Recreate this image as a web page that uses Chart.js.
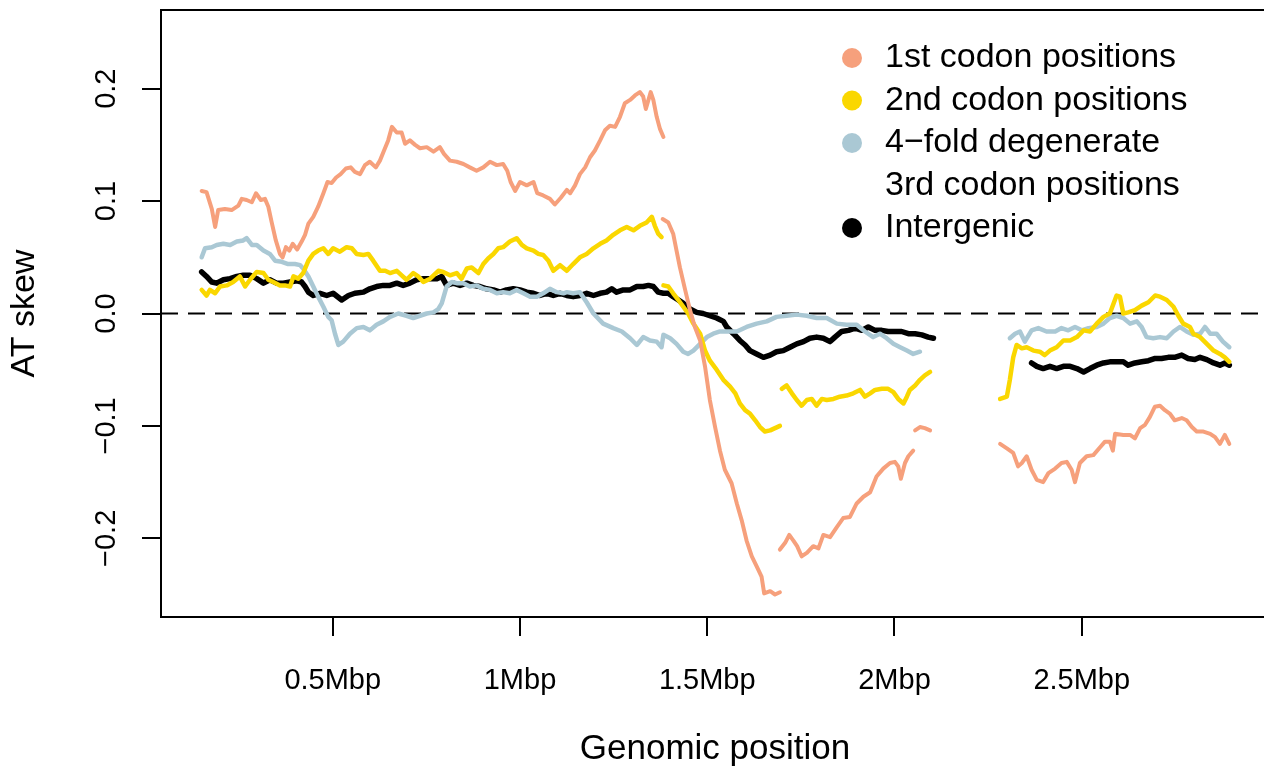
<!DOCTYPE html>
<html>
<head>
<meta charset="utf-8">
<title>AT skew along the genome</title>
<script src="https://cdn.jsdelivr.net/npm/chart.js"></script>
<style>
	html, body { margin: 0; padding: 0; background: #fff; overflow: hidden; }
	canvas { display: block; }
</style>
</head>
<body>
<canvas id="skew-chart" width="1272" height="769"></canvas>
<script>
; (function() {
	const FONT = "'Liberation Sans', Arial, Helvetica, sans-serif"

	const xTicks = [0.5, 1, 1.5, 2, 2.5]
	const xTickLabels = ['0.5Mbp', '1Mbp', '1.5Mbp', '2Mbp', '2.5Mbp']
	const yTicks = [-0.2, -0.1, 0, 0.1, 0.2]
	const yTickLabels = ['\u22120.2', '\u22120.1', '0.0', '0.1', '0.2']

	const seriesLabels = ['1st codon positions', '2nd codon positions', '4\u2212fold degenerate\n3rd codon positions', 'Intergenic']
	const seriesColors = ['#F6A07C', '#FAD700', '#AAC8D4', '#000000']

	// [position (Mbp), AT skew], one inner array per unbroken run of windows
	const firstCodon = [
		[[0.150,0.109],[0.163,0.108],[0.177,0.093],[0.186,0.077],[0.194,0.092],[0.212,0.093],[0.230,0.092],[0.248,0.096],[0.257,0.102],[0.270,0.101],[0.284,0.099],[0.295,0.107],[0.308,0.101],[0.319,0.102],[0.328,0.095],[0.337,0.081],[0.348,0.065],[0.359,0.053],[0.366,0.050],[0.375,0.059],[0.384,0.056],[0.393,0.062],[0.405,0.057],[0.417,0.064],[0.426,0.070],[0.435,0.080],[0.448,0.086],[0.461,0.095],[0.475,0.107],[0.486,0.117],[0.497,0.116],[0.509,0.121],[0.521,0.124],[0.535,0.129],[0.548,0.130],[0.559,0.126],[0.573,0.124],[0.586,0.132],[0.599,0.135],[0.615,0.130],[0.626,0.136],[0.637,0.145],[0.648,0.154],[0.658,0.166],[0.671,0.161],[0.684,0.161],[0.693,0.151],[0.706,0.154],[0.720,0.150],[0.733,0.147],[0.751,0.148],[0.769,0.144],[0.786,0.148],[0.797,0.142],[0.813,0.136],[0.831,0.135],[0.849,0.133],[0.866,0.130],[0.884,0.127],[0.902,0.130],[0.920,0.135],[0.938,0.132],[0.955,0.133],[0.966,0.127],[0.975,0.117],[0.987,0.109],[1.000,0.117],[1.018,0.114],[1.036,0.117],[1.046,0.107],[1.062,0.105],[1.080,0.102],[1.093,0.097],[1.109,0.103],[1.125,0.110],[1.134,0.107],[1.147,0.114],[1.160,0.124],[1.174,0.130],[1.187,0.139],[1.200,0.145],[1.214,0.154],[1.227,0.163],[1.240,0.167],[1.254,0.166],[1.267,0.175],[1.280,0.187],[1.294,0.190],[1.307,0.194],[1.320,0.197],[1.329,0.193],[1.336,0.182],[1.343,0.190],[1.349,0.197],[1.356,0.190],[1.365,0.175],[1.374,0.164],[1.383,0.157]],
		[[1.381,0.084],[1.396,0.081],[1.409,0.071],[1.418,0.056],[1.427,0.041],[1.441,0.021],[1.454,0.003],[1.467,-0.012],[1.481,-0.024],[1.494,-0.047],[1.507,-0.077],[1.521,-0.101],[1.534,-0.122],[1.547,-0.139],[1.565,-0.151],[1.579,-0.169],[1.592,-0.184],[1.605,-0.202],[1.619,-0.216],[1.632,-0.225],[1.645,-0.234],[1.652,-0.249],[1.668,-0.247],[1.681,-0.250],[1.694,-0.248]],
		[[1.694,-0.210],[1.708,-0.204],[1.719,-0.197],[1.730,-0.202],[1.740,-0.207],[1.752,-0.216],[1.766,-0.213],[1.783,-0.207],[1.797,-0.209],[1.810,-0.197],[1.828,-0.199],[1.846,-0.190],[1.863,-0.182],[1.881,-0.181],[1.899,-0.169],[1.917,-0.163],[1.935,-0.159],[1.952,-0.145],[1.970,-0.138],[1.988,-0.133],[2.001,-0.132],[2.010,-0.136],[2.017,-0.147],[2.028,-0.133],[2.037,-0.127],[2.050,-0.122]],
		[[2.055,-0.104],[2.068,-0.101],[2.081,-0.102],[2.095,-0.104]],
		[[2.282,-0.116],[2.300,-0.120],[2.317,-0.124],[2.330,-0.136],[2.340,-0.133],[2.353,-0.127],[2.366,-0.139],[2.380,-0.148],[2.397,-0.150],[2.411,-0.142],[2.429,-0.138],[2.446,-0.133],[2.460,-0.132],[2.473,-0.139],[2.482,-0.150],[2.495,-0.133],[2.513,-0.127],[2.531,-0.126],[2.549,-0.119],[2.562,-0.114],[2.575,-0.114],[2.583,-0.122],[2.589,-0.107],[2.611,-0.108],[2.629,-0.108],[2.642,-0.111],[2.656,-0.102],[2.669,-0.099],[2.682,-0.092],[2.695,-0.083],[2.709,-0.082],[2.722,-0.086],[2.735,-0.089],[2.748,-0.095],[2.767,-0.093],[2.780,-0.095],[2.794,-0.101],[2.807,-0.105],[2.825,-0.105],[2.843,-0.107],[2.856,-0.110],[2.869,-0.116],[2.882,-0.108],[2.894,-0.116]]
	]

	const secondCodon = [
		[[0.150,0.021],[0.163,0.016],[0.172,0.021],[0.186,0.018],[0.199,0.024],[0.217,0.025],[0.234,0.028],[0.252,0.033],[0.266,0.024],[0.279,0.030],[0.297,0.037],[0.315,0.036],[0.328,0.030],[0.341,0.028],[0.359,0.025],[0.372,0.025],[0.386,0.024],[0.395,0.033],[0.408,0.031],[0.421,0.036],[0.435,0.047],[0.448,0.053],[0.461,0.056],[0.475,0.058],[0.488,0.053],[0.501,0.058],[0.519,0.055],[0.537,0.059],[0.551,0.058],[0.564,0.053],[0.582,0.052],[0.595,0.053],[0.608,0.047],[0.626,0.038],[0.640,0.038],[0.653,0.036],[0.671,0.038],[0.684,0.034],[0.697,0.030],[0.715,0.036],[0.728,0.033],[0.742,0.028],[0.760,0.031],[0.782,0.038],[0.795,0.037],[0.813,0.034],[0.831,0.036],[0.844,0.031],[0.858,0.040],[0.871,0.041],[0.889,0.036],[0.902,0.044],[0.915,0.049],[0.929,0.053],[0.942,0.058],[0.955,0.059],[0.973,0.064],[0.991,0.067],[1.005,0.061],[1.018,0.058],[1.036,0.056],[1.049,0.053],[1.062,0.052],[1.076,0.047],[1.089,0.038],[1.107,0.043],[1.125,0.038],[1.142,0.044],[1.160,0.050],[1.178,0.053],[1.196,0.058],[1.214,0.062],[1.231,0.065],[1.249,0.070],[1.267,0.074],[1.285,0.077],[1.303,0.074],[1.320,0.078],[1.338,0.081],[1.352,0.086],[1.360,0.078],[1.369,0.071],[1.378,0.068]],
		[[1.383,0.025],[1.396,0.024],[1.409,0.018],[1.423,0.012],[1.436,0.006],[1.449,0.000],[1.463,-0.009],[1.481,-0.018],[1.494,-0.033],[1.507,-0.042],[1.525,-0.050],[1.543,-0.059],[1.561,-0.065],[1.575,-0.071],[1.587,-0.080],[1.601,-0.086],[1.614,-0.089],[1.628,-0.095],[1.641,-0.101],[1.654,-0.105],[1.668,-0.104],[1.681,-0.102],[1.694,-0.100]],
		[[1.699,-0.067],[1.712,-0.064],[1.726,-0.071],[1.739,-0.077],[1.752,-0.082],[1.766,-0.077],[1.779,-0.076],[1.792,-0.082],[1.806,-0.076],[1.819,-0.077],[1.837,-0.076],[1.854,-0.074],[1.872,-0.073],[1.890,-0.071],[1.908,-0.068],[1.921,-0.074],[1.935,-0.071],[1.948,-0.068],[1.966,-0.067],[1.983,-0.067],[1.997,-0.070],[2.010,-0.076],[2.024,-0.080],[2.033,-0.074],[2.041,-0.068],[2.055,-0.064],[2.068,-0.059],[2.081,-0.055],[2.095,-0.052]],
		[[2.282,-0.076],[2.300,-0.074],[2.308,-0.059],[2.317,-0.039],[2.326,-0.028],[2.340,-0.031],[2.353,-0.030],[2.371,-0.033],[2.388,-0.034],[2.401,-0.037],[2.415,-0.033],[2.433,-0.030],[2.451,-0.024],[2.469,-0.024],[2.487,-0.021],[2.505,-0.015],[2.522,-0.016],[2.540,-0.009],[2.558,-0.003],[2.575,0.000],[2.593,0.016],[2.602,0.015],[2.611,0.000],[2.624,0.001],[2.642,0.003],[2.660,0.007],[2.678,0.010],[2.696,0.016],[2.709,0.015],[2.727,0.012],[2.745,0.006],[2.758,-0.002],[2.771,-0.009],[2.789,-0.012],[2.798,-0.018],[2.816,-0.021],[2.834,-0.027],[2.852,-0.033],[2.869,-0.036],[2.882,-0.039],[2.894,-0.043]]
	]

	const fourFold = [
		[[0.150,0.050],[0.159,0.058],[0.177,0.059],[0.190,0.061],[0.208,0.062],[0.226,0.061],[0.244,0.064],[0.261,0.065],[0.270,0.067],[0.284,0.061],[0.297,0.061],[0.315,0.056],[0.332,0.053],[0.346,0.047],[0.364,0.046],[0.381,0.044],[0.399,0.044],[0.413,0.043],[0.421,0.040],[0.435,0.033],[0.448,0.024],[0.461,0.015],[0.475,0.006],[0.488,-0.003],[0.497,-0.006],[0.506,-0.018],[0.515,-0.028],[0.528,-0.025],[0.546,-0.018],[0.564,-0.013],[0.582,-0.012],[0.599,-0.015],[0.617,-0.010],[0.635,-0.007],[0.653,-0.003],[0.675,0.000],[0.697,-0.002],[0.715,-0.004],[0.733,-0.002],[0.751,0.000],[0.769,0.001],[0.782,0.004],[0.791,0.009],[0.804,0.024],[0.818,0.028],[0.831,0.027],[0.849,0.027],[0.866,0.024],[0.884,0.025],[0.902,0.022],[0.920,0.021],[0.938,0.018],[0.955,0.019],[0.973,0.018],[0.991,0.021],[1.009,0.018],[1.027,0.015],[1.045,0.015],[1.062,0.018],[1.080,0.022],[1.098,0.019],[1.116,0.018],[1.125,0.019],[1.142,0.018],[1.160,0.019],[1.178,0.010],[1.196,0.000],[1.222,-0.009],[1.249,-0.013],[1.272,-0.016],[1.294,-0.022],[1.312,-0.028],[1.329,-0.021],[1.347,-0.024],[1.365,-0.025],[1.378,-0.030],[1.383,-0.019],[1.401,-0.022],[1.418,-0.027],[1.436,-0.034],[1.449,-0.036],[1.463,-0.033],[1.481,-0.027],[1.499,-0.021],[1.516,-0.018],[1.534,-0.016],[1.552,-0.016],[1.579,-0.016],[1.605,-0.012],[1.632,-0.009],[1.659,-0.007],[1.685,-0.003],[1.712,-0.002],[1.739,-0.001],[1.766,-0.002],[1.792,-0.004],[1.819,-0.004],[1.846,-0.009],[1.872,-0.010],[1.899,-0.010],[1.921,-0.016],[1.943,-0.021],[1.961,-0.018],[1.979,-0.022],[1.997,-0.027],[2.015,-0.030],[2.033,-0.033],[2.050,-0.036],[2.068,-0.034]],
		[[2.308,-0.022],[2.322,-0.018],[2.335,-0.016],[2.348,-0.025],[2.366,-0.015],[2.384,-0.013],[2.406,-0.016],[2.429,-0.016],[2.446,-0.013],[2.464,-0.015],[2.482,-0.012],[2.500,-0.015],[2.518,-0.013],[2.540,-0.012],[2.558,-0.009],[2.575,-0.004],[2.593,-0.002],[2.611,-0.004],[2.629,-0.009],[2.647,-0.007],[2.660,-0.012],[2.673,-0.021],[2.691,-0.022],[2.709,-0.021],[2.727,-0.022],[2.745,-0.016],[2.762,-0.012],[2.780,-0.016],[2.798,-0.019],[2.816,-0.018],[2.829,-0.012],[2.843,-0.018],[2.860,-0.018],[2.877,-0.025],[2.894,-0.030]]
	]

	const intergenic = [
		[[0.150,0.037],[0.163,0.033],[0.177,0.028],[0.190,0.027],[0.208,0.030],[0.226,0.031],[0.244,0.033],[0.261,0.034],[0.279,0.034],[0.297,0.031],[0.315,0.027],[0.332,0.030],[0.350,0.027],[0.368,0.027],[0.386,0.028],[0.404,0.029],[0.417,0.028],[0.426,0.024],[0.435,0.019],[0.448,0.016],[0.466,0.018],[0.484,0.016],[0.501,0.018],[0.524,0.012],[0.542,0.016],[0.559,0.018],[0.582,0.019],[0.599,0.022],[0.617,0.024],[0.635,0.025],[0.653,0.025],[0.671,0.027],[0.688,0.025],[0.706,0.027],[0.724,0.030],[0.742,0.031],[0.760,0.031],[0.778,0.031],[0.791,0.033],[0.804,0.025],[0.822,0.027],[0.840,0.025],[0.858,0.027],[0.875,0.025],[0.893,0.024],[0.911,0.022],[0.929,0.021],[0.947,0.019],[0.964,0.021],[0.982,0.022],[1.000,0.021],[1.018,0.019],[1.036,0.018],[1.053,0.016],[1.071,0.018],[1.089,0.016],[1.107,0.018],[1.125,0.016],[1.142,0.015],[1.160,0.016],[1.178,0.018],[1.196,0.016],[1.214,0.018],[1.231,0.019],[1.245,0.022],[1.258,0.019],[1.276,0.021],[1.294,0.021],[1.312,0.024],[1.329,0.024],[1.343,0.025],[1.356,0.024],[1.369,0.019],[1.383,0.018],[1.396,0.018],[1.409,0.015],[1.423,0.012],[1.436,0.009],[1.454,0.004],[1.472,0.001],[1.489,0.000],[1.507,-0.002],[1.525,-0.004],[1.543,-0.007],[1.552,-0.012],[1.570,-0.018],[1.587,-0.024],[1.601,-0.028],[1.614,-0.033],[1.632,-0.036],[1.650,-0.039],[1.668,-0.037],[1.685,-0.034],[1.703,-0.033],[1.721,-0.030],[1.739,-0.027],[1.757,-0.025],[1.774,-0.022],[1.792,-0.021],[1.810,-0.022],[1.828,-0.025],[1.841,-0.021],[1.859,-0.016],[1.877,-0.015],[1.895,-0.013],[1.913,-0.015],[1.930,-0.012],[1.948,-0.015],[1.966,-0.015],[1.983,-0.016],[2.001,-0.016],[2.019,-0.016],[2.037,-0.018],[2.055,-0.018],[2.073,-0.019],[2.090,-0.021],[2.104,-0.022]],
		[[2.366,-0.044],[2.380,-0.047],[2.397,-0.049],[2.415,-0.047],[2.433,-0.049],[2.451,-0.047],[2.469,-0.047],[2.487,-0.049],[2.505,-0.052],[2.522,-0.049],[2.540,-0.046],[2.558,-0.044],[2.575,-0.043],[2.593,-0.043],[2.611,-0.043],[2.624,-0.046],[2.642,-0.044],[2.660,-0.043],[2.678,-0.042],[2.696,-0.040],[2.713,-0.040],[2.731,-0.039],[2.748,-0.039],[2.767,-0.037],[2.784,-0.040],[2.802,-0.041],[2.816,-0.039],[2.834,-0.041],[2.852,-0.044],[2.869,-0.046],[2.882,-0.044],[2.894,-0.046]]
	]

	// join the runs, putting a null between them so the line breaks
	function toPoints(runs) {
		const pts = []
		runs.forEach((run, i) => {
			if (i > 0) pts.push({ x: run[0][0], y: null })
			run.forEach(p => pts.push({ x: p[0], y: p[1] }))
		})
		return pts
	}

	function lineSet(runs, idx, width) {
		return {
			label: seriesLabels[idx],
			data: toPoints(runs),
			borderColor: seriesColors[idx],
			backgroundColor: seriesColors[idx],
			borderWidth: width,
			pointRadius: 0,
			tension: 0,
			spanGaps: false,
			borderJoinStyle: 'round',
			borderCapStyle: 'round',
		}
	}

	// dashed zero line, box, rotated y labels and the legend
	const rBase = {
		id: 'rBase',
		beforeDatasetsDraw(chart) {
			const { ctx, chartArea, scales } = chart
			const y0 = scales.y.getPixelForValue(0)
			ctx.save()
			ctx.strokeStyle = '#000'
			ctx.lineWidth = 2
			ctx.setLineDash([17, 10])
			ctx.beginPath()
			ctx.moveTo(chartArea.left, y0)
			ctx.lineTo(chartArea.right, y0)
			ctx.stroke()
			ctx.restore()
		},
		afterDraw(chart) {
			const { ctx, chartArea, scales } = chart
			ctx.save()
			ctx.strokeStyle = '#000'
			ctx.lineWidth = 2
			ctx.strokeRect(chartArea.left, chartArea.top, chartArea.width, chartArea.height)

			ctx.fillStyle = '#000'
			ctx.font = '29px ' + FONT
			ctx.textAlign = 'center'
			ctx.textBaseline = 'alphabetic'
			yTicks.forEach((v, i) => {
				ctx.save()
				ctx.translate(115, scales.y.getPixelForValue(v))
				ctx.rotate(-Math.PI / 2)
				ctx.fillText(yTickLabels[i], 0, 0)
				ctx.restore()
			})

			// legend
			ctx.font = '34px ' + FONT
			ctx.textAlign = 'left'
			ctx.textBaseline = 'middle'
			let row = 0
			const top = chartArea.top + 48
			const step = 42.5
			seriesLabels.forEach((label, i) => {
				const y = top + row * step
				ctx.fillStyle = seriesColors[i]
				ctx.beginPath()
				ctx.arc(852, y, 10, 0, Math.PI * 2)
				ctx.fill()
				ctx.fillStyle = '#000'
				label.split('\n').forEach(line => {
					ctx.fillText(line, 885, top + row * step)
					row++
				})
			})
			ctx.restore()
		}
	}

	const axisGrid = {
		drawOnChartArea: false,
		drawTicks: true,
		tickLength: 19,
		tickWidth: 2,
		tickColor: '#000',
		color: '#000',
		lineWidth: 2,
	}

	const config = {
		type: 'line',
		data: {
			datasets: [
				lineSet(firstCodon, 0, 4),
				lineSet(secondCodon, 1, 4.5),
				lineSet(fourFold, 2, 4.5),
				lineSet(intergenic, 3, 5.5),
			],
		},
		options: {
			responsive: false,
			animation: false,
			devicePixelRatio: 1,
			layout: { padding: { top: 10, right: 3, left: 0, bottom: 0 } },
			plugins: {
				legend: { display: false },
				tooltip: { enabled: false },
			},
			scales: {
				x: {
					type: 'linear',
					min: 0.0414,
					max: 3.0,
					afterBuildTicks(scale) { scale.ticks = xTicks.map(v => ({ value: v })) },
					afterFit(scale) { scale.height = 152 },
					grid: axisGrid,
					border: { display: true, color: '#000', width: 2 },
					ticks: {
						autoSkip: false,
						maxRotation: 0,
						padding: 28,
						color: '#000',
						font: { size: 29, family: FONT },
						callback: (v, i) => xTickLabels[i],
					},
					title: {
						display: true,
						text: 'Genomic position',
						color: '#000',
						font: { size: 35, family: FONT, lineHeight: 1 },
						padding: { top: 0, bottom: 2 },
					},
				},
				y: {
					type: 'linear',
					min: -0.27,
					max: 0.27,
					afterBuildTicks(scale) { scale.ticks = yTicks.map(v => ({ value: v })) },
					afterFit(scale) { scale.width = 161 },
					grid: axisGrid,
					border: { display: true, color: '#000', width: 2 },
					ticks: { display: false },
					title: {
						display: true,
						text: 'AT skew',
						color: '#000',
						font: { size: 34, family: FONT, lineHeight: 1 },
						padding: { top: 8, bottom: 0 },
					},
				},
			},
		},
		plugins: [rBase],
	}

	new Chart(document.getElementById('skew-chart'), config)
})()
</script>
</body>
</html>
